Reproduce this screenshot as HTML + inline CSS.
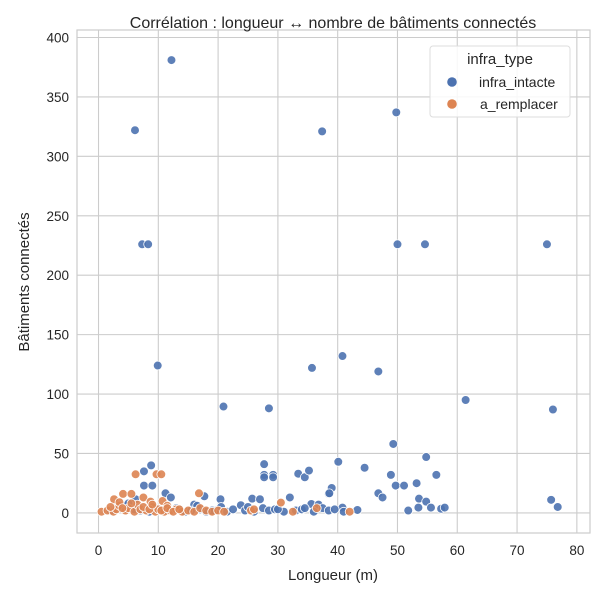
<!DOCTYPE html>
<html><head><meta charset="utf-8"><style>
html,body{margin:0;padding:0;background:#fff}
svg{display:block;font-family:"Liberation Sans","DejaVu Sans",sans-serif}
</style></head><body>
<svg id="chart" width="600" height="600" viewBox="0 0 600 600" xmlns="http://www.w3.org/2000/svg">
<rect x="0" y="0" width="600" height="600" fill="#fff"/>
<g id="grid"></g>
<g id="points"></g>
<rect x="77" y="30" width="513" height="503" fill="none" stroke="#cccccc" stroke-width="1.2"/>
<g id="ticks"></g>
<text x="333" y="28" text-anchor="middle" font-size="16" fill="#262626">Corrélation : longueur ↔ nombre de bâtiments connectés</text>
<text x="333" y="580" text-anchor="middle" font-size="15" fill="#262626">Longueur (m)</text>
<text transform="translate(29,282) rotate(-90)" text-anchor="middle" font-size="15" fill="#262626">Bâtiments connectés</text>
<g>
<rect x="430" y="46" width="140" height="71" rx="3" fill="#fff" fill-opacity="0.85" stroke="#dddddd"/>
<text x="500" y="64" text-anchor="middle" font-size="15" fill="#262626">infra_type</text>
<circle cx="452" cy="82" r="4.8" fill="#4c72b0"/>
<text x="479" y="87" font-size="14" fill="#262626">infra_intacte</text>
<circle cx="452" cy="104" r="4.8" fill="#dd8452"/>
<text x="480" y="109" font-size="14" fill="#262626">a_remplacer</text>
</g>
</svg>
<script>
const xTicks=[0,10,20,30,40,50,60,70,80];
const yTicks=[0,50,100,150,200,250,300,350,400];
const blueX=[12.2,6.1,37.4,49.8,7.3,8.3,50.0,54.6,75.0,9.9,35.7,40.8,46.8,61.4,20.9,28.5,76,
8.8,7.6,7.6,9,11.2,12.1,6.2,27.7,27.7,29.2,27.7,29.2,33.4,34.5,35.2,38.5,39,40.1,20.4,17.7,25.7,27,32,35.6,36.8,23.8,16,
44.5,49.3,48.9,49.7,51.1,53.2,54.8,56.5,38.6,46.8,47.5,53.6,54.8,55.6,53.5,51.8,57.3,57.9,40.8,43.3,75.7,76.8,
2,3,4.5,6,7,8.5,10,11.5,13,14.5,15.5,17,18,19.5,20.5,21.5,22.5,24.5,26,27.5,28.5,29.5,31,33,34,36,37.5,38.5,39.5,41,
5,9,13.5,16.5,19,25,30,34.5];
const blueY=[381,322,321,337,226,226,226,226,226,124,122,132,119,95,89.5,88,87,
40,35,23,23,16.5,13,11.5,41,32,32,30,30,33,30,35.6,16,21,43,11.5,14,12,11.5,13,7.5,7,6.5,7,
38,58,32,23,23,25,47,32,16.5,16.5,13,12,9.5,4.5,4.5,2,3.5,4.5,4.5,2.5,11,5,
2,4,6,3,2,1,3,2,4,1,2,3,1,2,5,1,3,2,1,4,2,3,1,2,3,1,4,2,3,1,
8,5,3,6,2,5,3,4];
const orangeX=[6.2,9.7,10.5,4.1,5.5,16.8,2.6,7.5,8.7,10.7,30.5,42,
0.5,1.5,2.5,3,3.5,4.5,5,6,6.5,7,8,9,9.5,10,11,11.5,12,13,14,15,16,17,18,19,20,2,3.5,4,5.5,7.5,8.5,9,10.5,11.5,12.5,13.5,25.5,32.5,36.5,21,26];
const orangeY=[32.5,32.5,32.5,16,16,16.5,11.5,13,9.5,10,8.7,1,
1,2,1,3,6,2,4,1,7,3,2,5,1,3,1,6,2,3,1,2,1,4,2,1,2,5,9,4,8,5,3,7,2,4,1,3,2,1,4,1,3,2];
const X0=-3.6,X1=82.2,Y0=-16.9,Y1=406.3,L=77,R=590,T=30,B=533;
function sx(v){return L+(v-X0)/(X1-X0)*(R-L);}
function sy(v){return B-(v-Y0)/(Y1-Y0)*(B-T);}
const NS='http://www.w3.org/2000/svg';
const grid=document.getElementById('grid'),ticks=document.getElementById('ticks'),pts=document.getElementById('points');
xTicks.forEach(t=>{
  const l=document.createElementNS(NS,'line');
  
  
  l.setAttribute('x1',sx(t));l.setAttribute('x2',sx(t));l.setAttribute('y1',T);l.setAttribute('y2',B);
  l.setAttribute('stroke','#cccccc');l.setAttribute('stroke-width','1.1');grid.appendChild(l);
  const tx=document.createElementNS(NS,'text');
  
  
  tx.setAttribute('x',sx(t));tx.setAttribute('y',B+22);tx.setAttribute('text-anchor','middle');
  tx.setAttribute('font-size','13.5');tx.setAttribute('fill','#262626');tx.textContent=t;ticks.appendChild(tx);
});
yTicks.forEach(t=>{
  const l=document.createElementNS(NS,'line');
  
  
  l.setAttribute('x1',L);l.setAttribute('x2',R);l.setAttribute('y1',sy(t));l.setAttribute('y2',sy(t));
  l.setAttribute('stroke','#cccccc');l.setAttribute('stroke-width','1.1');grid.appendChild(l);
  const tx=document.createElementNS(NS,'text');
  
  
  tx.setAttribute('x',L-8);tx.setAttribute('y',sy(t)+5);tx.setAttribute('text-anchor','end');
  tx.setAttribute('font-size','13.5');tx.setAttribute('fill','#262626');tx.textContent=t;ticks.appendChild(tx);
});
function drawSeries(xs,ys,color,name){
  xs.forEach((x,i)=>{
    const c=document.createElementNS(NS,'circle');
    
    
    c.setAttribute('cx',sx(x));c.setAttribute('cy',sy(ys[i]));c.setAttribute('r','4.4');
    c.setAttribute('fill',color);c.setAttribute('fill-opacity','0.9');
    c.setAttribute('stroke','#fff');c.setAttribute('stroke-width','0.8');pts.appendChild(c);
  });
}
drawSeries(blueX,blueY,'#4c72b0','point-infra-intacte');
drawSeries(orangeX,orangeY,'#dd8452','point-a-remplacer');
</script>
</body></html>
